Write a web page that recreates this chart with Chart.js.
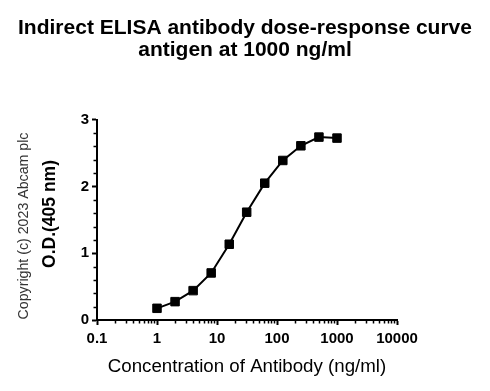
<!DOCTYPE html>
<html>
<head>
<meta charset="utf-8">
<script src="https://cdn.jsdelivr.net/npm/chart.js@4"></script>
<style>
  body { margin: 0; background: #fff; }
  #wrap { width: 490px; height: 391px; }
</style>
</head>
<body>
<div id="wrap"><canvas id="chart" width="490" height="391"></canvas></div>
<script>
// data
const concentrations = [1, 2, 4, 8, 16, 31.25, 62.5, 125, 250, 500, 1000];
const odValues = [0.175, 0.275, 0.44, 0.705, 1.135, 1.615, 2.05, 2.39, 2.61, 2.74, 2.725];
const xMajorTicks = [0.1, 1, 10, 100, 1000, 10000];
const yMajorTicks = [0, 1, 2, 3];

const titleLines = ["Indirect ELISA antibody dose-response curve", "antigen at 1000 ng/ml"];
const xTitle = "Concentration of Antibody (ng/ml)";
const yTitle = "O.D.(405 nm)";
const copyright = "Copyright (c) 2023 Abcam plc";

const FONT = "'Liberation Sans', Arial, sans-serif";

// minor ticks + rotated texts
const extras = {
  id: "extras",
  afterDraw(chart) {
    const ctx = chart.ctx;
    const x = chart.scales.x, y = chart.scales.y;
    const area = chart.chartArea;
    ctx.save();
    ctx.strokeStyle = "#000";
    ctx.lineWidth = 1.5;
    ctx.beginPath();
    for (let d = 0.1; d < 5000; d *= 10) {
      for (let m = 2; m <= 9; m++) {
        const px = Math.round(x.getPixelForValue(m * d)) + 0.5;
        ctx.moveTo(px, area.bottom);
        ctx.lineTo(px, area.bottom + 3.5);
      }
    }
    for (let i = 1; i < 15; i++) {
      if (i % 5 === 0) continue;
      const py = Math.round(y.getPixelForValue(i * 0.2)) + 0.5;
      ctx.moveTo(area.left, py);
      ctx.lineTo(area.left - 3.5, py);
    }
    ctx.stroke();

    ctx.fillStyle = "#000";
    ctx.textAlign = "center";
    ctx.textBaseline = "middle";
    ctx.translate(50, 214);
    ctx.rotate(-Math.PI / 2);
    ctx.font = "bold 17.5px " + FONT;
    ctx.fillText(yTitle, 0, 0);
    ctx.restore();

    ctx.save();
    ctx.fillStyle = "#333";
    ctx.textAlign = "center";
    ctx.textBaseline = "middle";
    ctx.translate(24, 226);
    ctx.rotate(-Math.PI / 2);
    ctx.font = "14.2px " + FONT;
    ctx.fillText(copyright, 0, 0);
    ctx.restore();
  }
};

new Chart(document.getElementById("chart"), {
  type: "line",
  data: {
    datasets: [{
      data: concentrations.map((c, i) => ({ x: c, y: odValues[i] })),
      borderColor: "#000",
      backgroundColor: "#000",
      borderWidth: 2,
      pointStyle: "rect",
      pointRadius: 6,
      pointBorderWidth: 1,
      tension: 0
    }]
  },
  options: {
    responsive: false,
    animation: false,
    layout: { padding: 0 },
    plugins: {
      legend: { display: false },
      tooltip: { enabled: false },
      title: {
        display: true,
        text: titleLines,
        color: "#000",
        font: { family: FONT, size: 21, weight: "bold", lineHeight: 1.03 },
        padding: { top: 17.5, bottom: 59 }
      }
    },
    scales: {
      x: {
        type: "logarithmic",
        min: 0.1,
        max: 10000,
        afterFit(scale) { scale.height = 71; },
        afterBuildTicks(scale) { scale.ticks = xMajorTicks.map(v => ({ value: v })); },
        border: { display: true, color: "#000", width: 2 },
        grid: { drawOnChartArea: false, tickLength: 5, tickWidth: 2, tickColor: "#000" },
        ticks: {
          autoSkip: false,
          maxRotation: 0,
          padding: 5,
          color: "#000",
          font: { family: FONT, size: 15, weight: "bold" },
          callback: v => String(v)
        },
        title: {
          display: true,
          text: xTitle,
          color: "#000",
          font: { family: FONT, size: 18.7 },
          padding: { top: 0, bottom: 13 }
        }
      },
      y: {
        min: 0,
        max: 3,
        afterFit(scale) { scale.width = 97; },
        afterBuildTicks(scale) { scale.ticks = yMajorTicks.map(v => ({ value: v })); },
        border: { display: true, color: "#000", width: 2 },
        grid: { drawOnChartArea: false, tickLength: 5, tickWidth: 2, tickColor: "#000" },
        ticks: {
          padding: 3,
          color: "#000",
          font: { family: FONT, size: 15, weight: "bold" },
          callback: v => String(v)
        }
      },
      // empty right-hand axis that only reserves the blank margin
      yRight: {
        position: "right",
        display: true,
        min: 0,
        max: 3,
        afterFit(scale) { scale.width = 93; },
        border: { display: false },
        grid: { display: false, drawTicks: false },
        ticks: { display: false }
      }
    }
  },
  plugins: [extras]
});
</script>
</body>
</html>
